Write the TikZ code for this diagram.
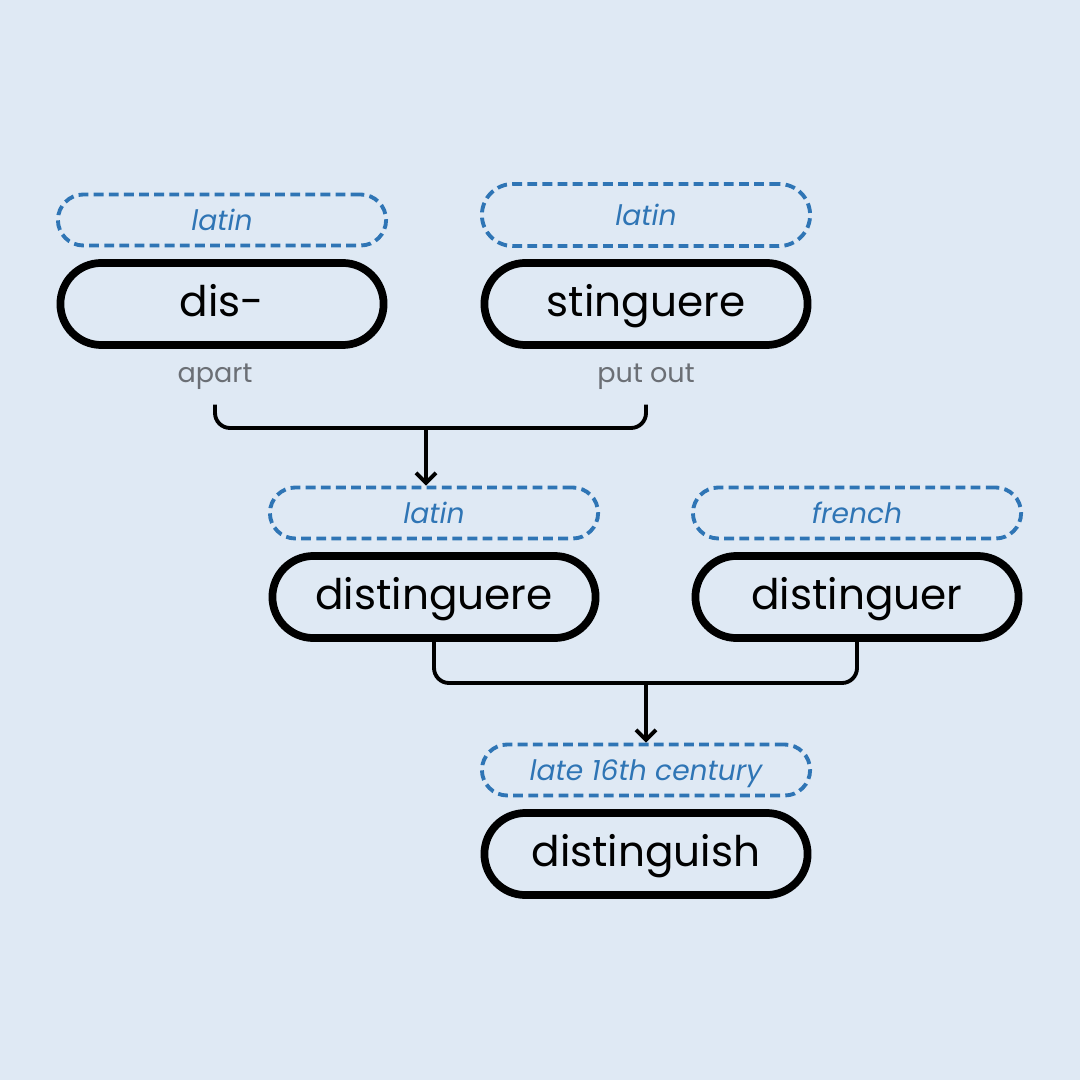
\documentclass[tikz,border=0pt]{standalone}
\usepackage{fontspec}
\setmainfont{Poppins}
\usetikzlibrary{arrows.meta}
\definecolor{bgblue}{HTML}{DFE9F4}
\definecolor{tagblue}{HTML}{2F75B5}
\definecolor{glossgray}{HTML}{6B6F75}
\tikzset{
    word/.style={draw=black, line width=2.2pt, rounded corners=0.41cm,
        minimum width=3.23cm, minimum height=0.82cm, inner sep=0pt,
        text height=0.86em, text depth=0.16em,
        font=\fontsize{12}{14}\selectfont},
    tag/.style={draw=tagblue, text=tagblue, line width=1.1pt,
        dash pattern=on 2.8pt off 1.5pt, rounded corners=0.255cm,
        minimum width=3.28cm, minimum height=0.51cm, inner sep=0pt,
        text height=0.78em, text depth=0.18em,
        font=\fontsize{8}{10}\selectfont\itshape},
    gloss/.style={text=glossgray, inner sep=0pt, font=\fontsize{7.7}{10}\selectfont},
    link/.style={line width=1.1pt, rounded corners=0.15cm},
    arrow/.style={line width=1.1pt, -{Straight Barb[length=1mm,width=2mm,line width=1.1pt]}}
}

\begin{document}
\begin{tikzpicture}[x=0.01cm, y=-0.01cm]
        \fill[bgblue] (0,0) rectangle (1080,1080);
        % Top row: the two latin parts.
            \node[tag] (tagdis) at (222, 220) {latin};
            \node[word] (dis) at (222, 304) {dis-};
            \node[gloss] (apart) at (215, 377) {apart};
            \node[tag, minimum height=0.62cm, rounded corners=0.31cm] (tagsting) at (646, 215) {latin};
            \node[word] (sting) at (646, 304) {stinguere};
            \node[gloss] (putout) at (646, 377) {put out};
        % Middle row.
            \node[tag] (taglat) at (434, 513) {latin};
            \node[word] (distinguere) at (434, 597) {distinguere};
            \node[tag] (tagfr) at (857, 513) {french};
            \node[word] (distinguer) at (857, 597) {distinguer};
        % Bottom: the english word.
            \node[tag] (tagen) at (646, 770) {late 16th century};
            \node[word] (distinguish) at (646, 854) {distinguish};
        % These join the parts and point to the next word.
            \coordinate (joinA) at (426, 428);
            \coordinate (joinB) at (646, 683);
            \draw[link] ([yshift=-0.14cm]apart.south) |- (joinA) -| ([yshift=-0.14cm]apart.south -| putout.south);
            \draw[arrow] (joinA) -- (joinA |- taglat.north);
            \draw[link] (distinguere.south) |- (joinB) -| (distinguer.south);
            \draw[arrow] (joinB) -- (tagen.north);
    \end{tikzpicture}
\end{document}
